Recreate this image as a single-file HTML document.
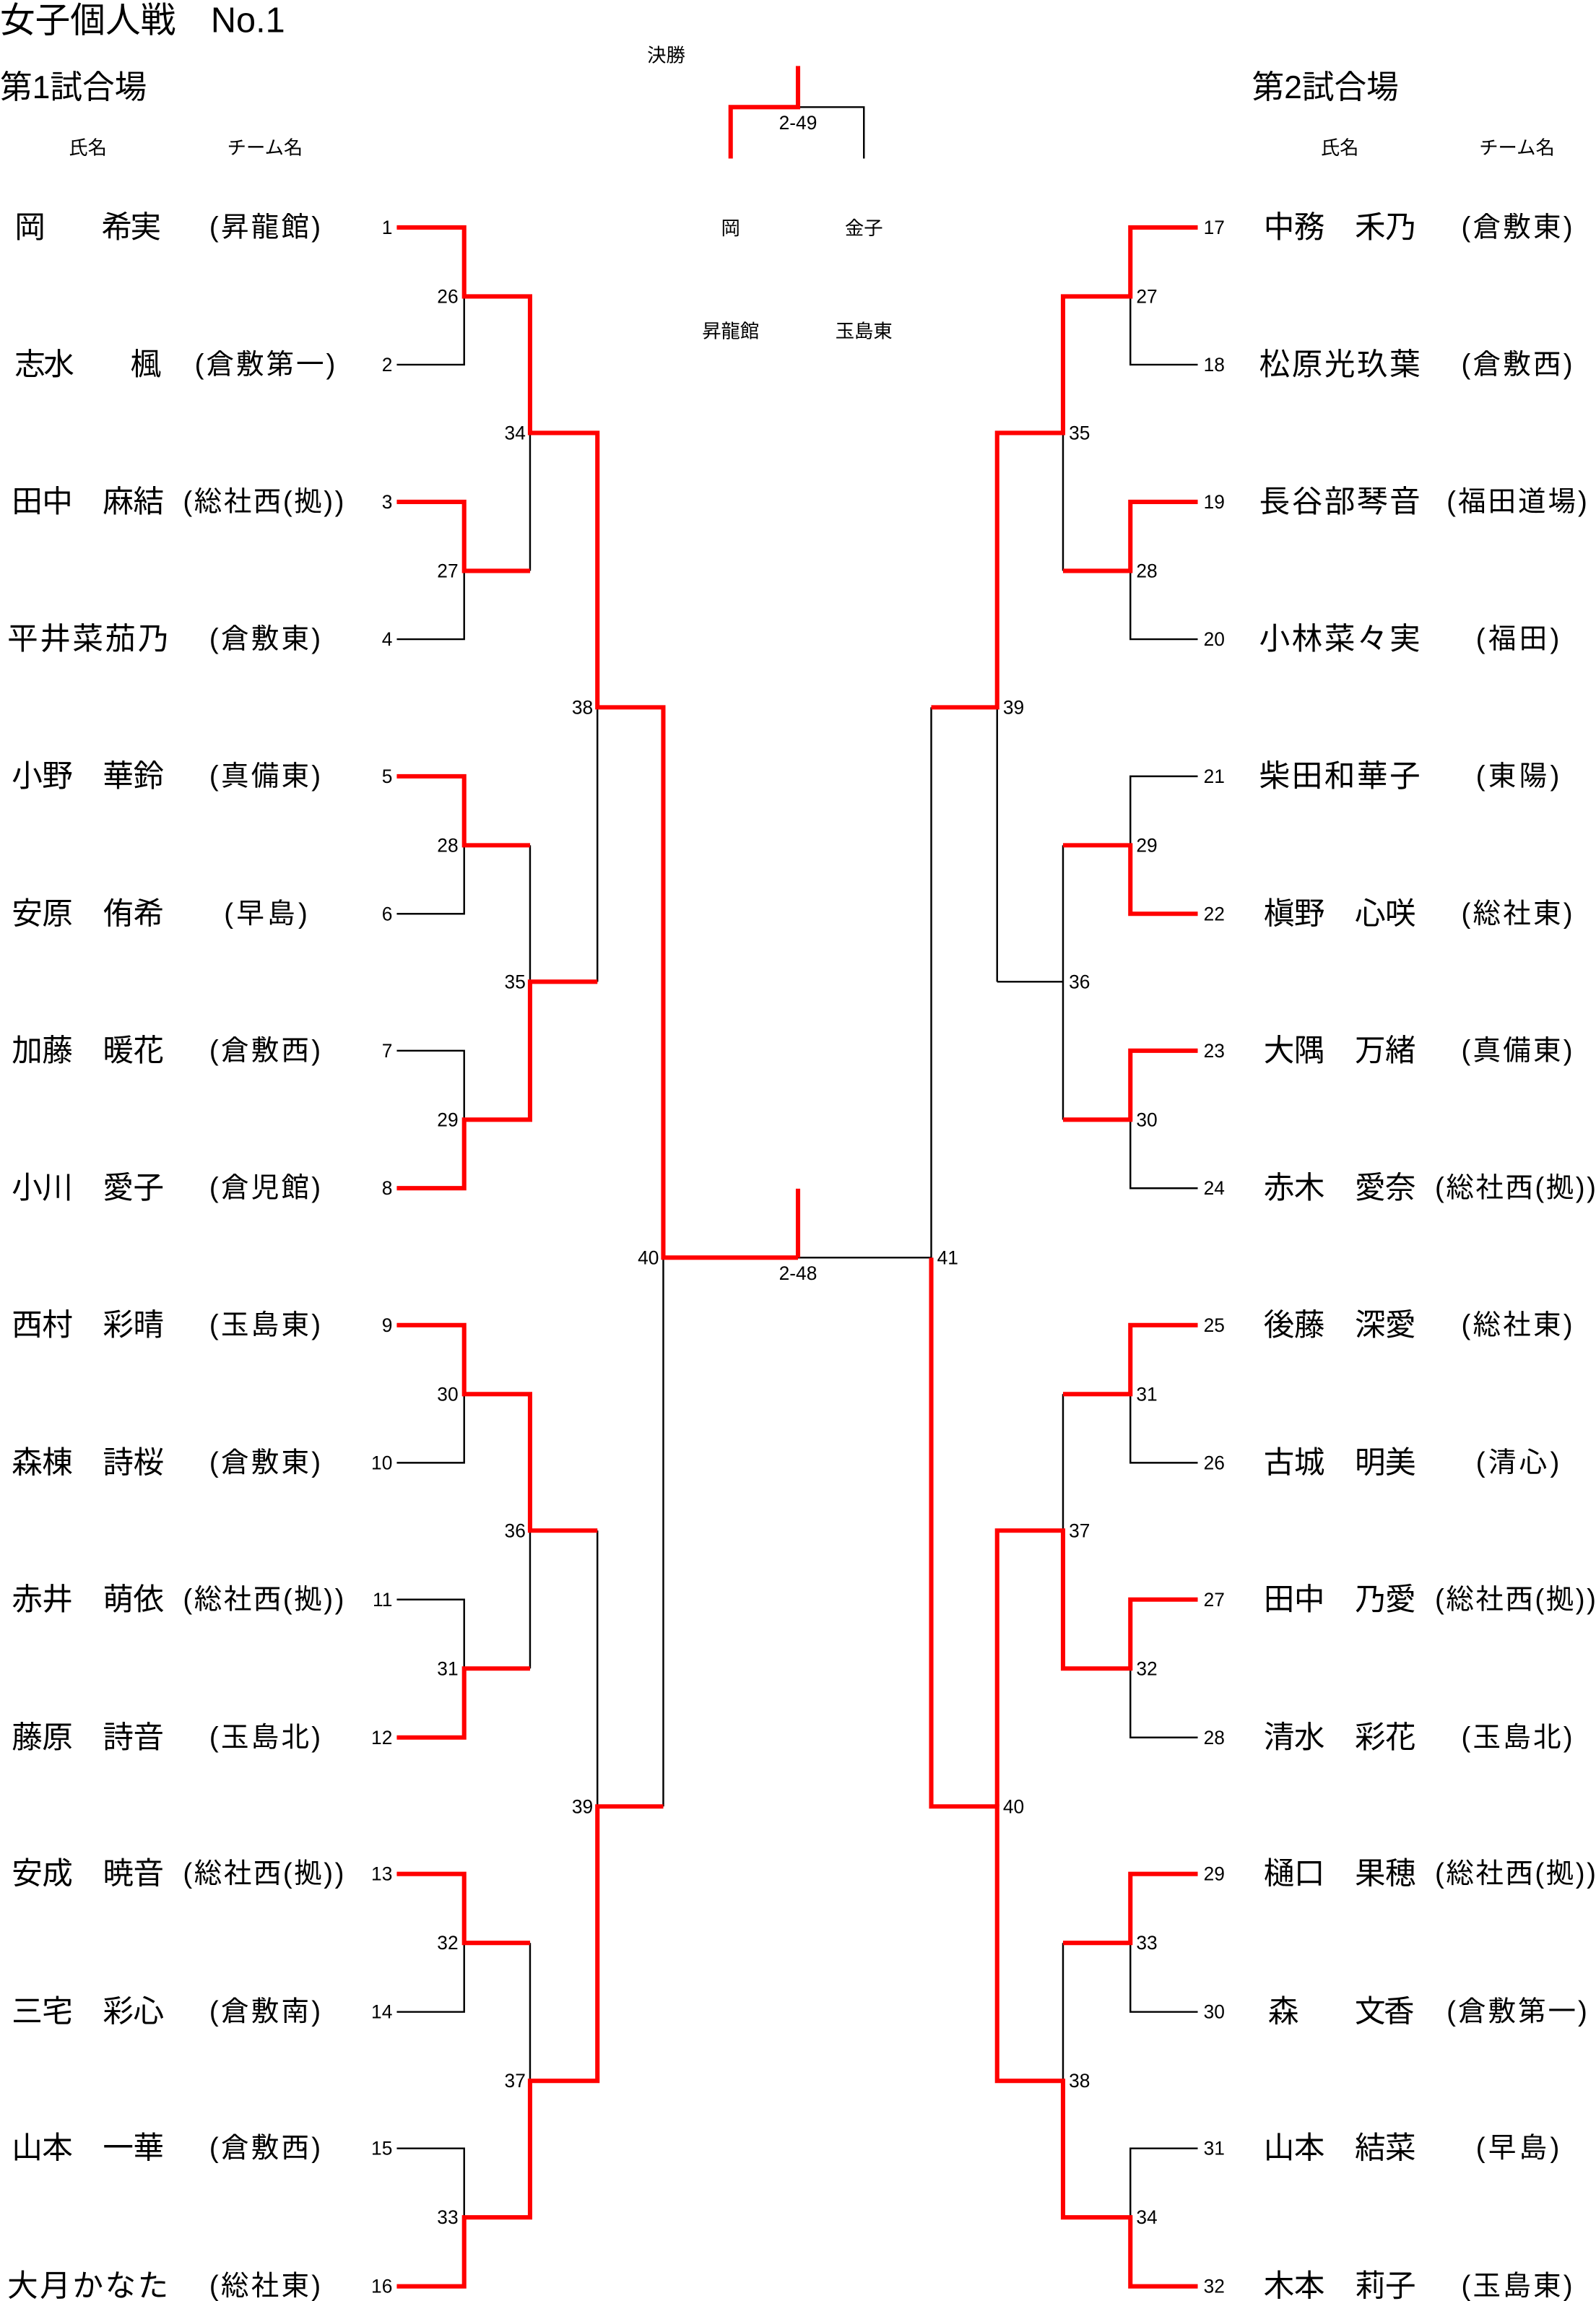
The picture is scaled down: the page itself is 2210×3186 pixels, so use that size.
<!DOCTYPE html>
<html><head><meta charset="utf-8"><style>
html,body{margin:0;padding:0;background:#fff;}
svg{display:block;}
text{font-family:"Liberation Sans","Noto Sans CJK JP",sans-serif;fill:#000;}
</style></head><body>
<svg width="2210" height="3186" viewBox="0 0 1090 1568" preserveAspectRatio="none" xmlns="http://www.w3.org/2000/svg">
<rect width="1090" height="1568" fill="#fff"/>
<text x="0" y="22" font-size="24">女子個人戦　No.1</text>
<text x="0" y="67" font-size="22">第1試合場</text>
<text x="855" y="67" font-size="22">第2試合場</text>
<g font-size="13" text-anchor="middle">
<text x="60" y="105">氏名</text><text x="181" y="105">チーム名</text>
<text x="915" y="105">氏名</text><text x="1036" y="105">チーム名</text>
<text x="455" y="42">決勝</text>
<text x="545" y="88">2-49</text>
<text x="545" y="872">2-48</text>
<text x="499" y="160">岡</text><text x="590" y="160">金子</text>
<text x="499" y="230">昇龍館</text><text x="590" y="230">玉島東</text>
</g>
<g stroke="#000" stroke-width="1.2" fill="none">
<path d="M271 155H317V248.5H271M271 342H317V435.6H271M271 529H317V622.7H271M271 716H317V809.7H271M271 903H317V996.8H271M271 1090H317V1184H271M271 1277H317V1371H271M271 1464H317V1558H271"/>
<path d="M317 202H362M317 389H362M317 576H362M317 763H362M317 950H362M317 1137H362M317 1324H362M317 1511H362"/>
<path d="M362 202V389M362 576V763M362 950V1137M362 1324V1511M362 295H408M362 669H408M362 1043H408M362 1418H408"/>
<path d="M408 295V669M408 1043V1418M408 482H453M408 1231H453M453 482V1231M453 857H636"/>
<path d="M818 155H772V248.5H818M818 342H772V435.6H818M818 529H772V622.7H818M818 716H772V809.7H818M818 903H772V996.8H818M818 1090H772V1184H818M818 1277H772V1371H818M818 1464H772V1558H818"/>
<path d="M772 202H726M772 389H726M772 576H726M772 763H726M772 950H726M772 1137H726M772 1324H726M772 1511H726"/>
<path d="M726 202V389M726 576V763M726 950V1137M726 1324V1511M726 295H681M726 669H681M726 1043H681M726 1418H681"/>
<path d="M681 295V669M681 1043V1418M681 482H636M681 1231H636M636 482V1231"/>
<path d="M545 73H590V108"/>
</g>
<g stroke="#f00" stroke-width="3" fill="none">
<path d="M271 155H317V202H362V295H408V482H453V857H545"/>
<path d="M271 342H317V389H362"/>
<path d="M271 529H317V576H362"/>
<path d="M271 809.7H317V763H362V669H408"/>
<path d="M271 903H317V950H362V1043H408"/>
<path d="M271 1184H317V1137H362"/>
<path d="M271 1277H317V1324H362"/>
<path d="M271 1558H317V1511H362V1418H408V1231H453"/>
<path d="M818 155H772V202H726V295H681V482H636"/>
<path d="M818 342H772V389H726"/>
<path d="M818 622.7H772V576H726"/>
<path d="M818 716H772V763H726"/>
<path d="M818 903H772V950H726"/>
<path d="M818 1090H772V1137H726V1043H681V1231"/>
<path d="M818 1277H772V1324H726"/>
<path d="M818 1558H772V1511H726V1418H681V1231H636V857"/>
<path d="M545 45V73H499V108"/>
<path d="M545 810V857"/>
</g>
<g font-size="13" dominant-baseline="central">
<g text-anchor="end">
<text x="268" y="155">1</text><text x="268" y="248.5">2</text><text x="268" y="342">3</text><text x="268" y="435.6">4</text>
<text x="268" y="529">5</text><text x="268" y="622.7">6</text><text x="268" y="716">7</text><text x="268" y="809.7">8</text>
<text x="268" y="903">9</text><text x="268" y="996.8">10</text><text x="268" y="1090">11</text><text x="268" y="1184">12</text>
<text x="268" y="1277">13</text><text x="268" y="1371">14</text><text x="268" y="1464">15</text><text x="268" y="1558">16</text>
<text x="313" y="202">26</text><text x="313" y="389">27</text><text x="313" y="576">28</text><text x="313" y="763">29</text>
<text x="313" y="950">30</text><text x="313" y="1137">31</text><text x="313" y="1324">32</text><text x="313" y="1511">33</text>
<text x="359" y="295">34</text><text x="359" y="669">35</text><text x="359" y="1043">36</text><text x="359" y="1418">37</text>
<text x="405" y="482">38</text><text x="405" y="1231">39</text><text x="450" y="857">40</text>
</g>
<text x="822" y="155">17</text><text x="822" y="248.5">18</text><text x="822" y="342">19</text><text x="822" y="435.6">20</text>
<text x="822" y="529">21</text><text x="822" y="622.7">22</text><text x="822" y="716">23</text><text x="822" y="809.7">24</text>
<text x="822" y="903">25</text><text x="822" y="996.8">26</text><text x="822" y="1090">27</text><text x="822" y="1184">28</text>
<text x="822" y="1277">29</text><text x="822" y="1371">30</text><text x="822" y="1464">31</text><text x="822" y="1558">32</text>
<text x="776" y="202">27</text><text x="776" y="389">28</text><text x="776" y="576">29</text><text x="776" y="763">30</text>
<text x="776" y="950">31</text><text x="776" y="1137">32</text><text x="776" y="1324">33</text><text x="776" y="1511">34</text>
<text x="730" y="295">35</text><text x="730" y="669">36</text><text x="730" y="1043">37</text><text x="730" y="1418">38</text>
<text x="685" y="482">39</text><text x="685" y="1231">40</text><text x="640" y="857">41</text>
</g>
<g font-size="21" dominant-baseline="central" lengthAdjust="spacing">
<text x="10" y="155" textLength="100">岡　　希実</text>
<text x="10" y="248.5" textLength="100">志水　　楓</text>
<text x="8" y="342" textLength="104">田中　麻結</text>
<text x="5" y="435.6" textLength="110">平井菜茄乃</text>
<text x="8" y="529" textLength="104">小野　華鈴</text>
<text x="8" y="622.7" textLength="104">安原　侑希</text>
<text x="8" y="716" textLength="104">加藤　暖花</text>
<text x="8" y="809.7" textLength="104">小川　愛子</text>
<text x="8" y="903" textLength="104">西村　彩晴</text>
<text x="8" y="996.8" textLength="104">森棟　詩桜</text>
<text x="8" y="1090" textLength="104">赤井　萌依</text>
<text x="8" y="1184" textLength="104">藤原　詩音</text>
<text x="8" y="1277" textLength="104">安成　暁音</text>
<text x="8" y="1371" textLength="104">三宅　彩心</text>
<text x="8" y="1464" textLength="104">山本　一華</text>
<text x="5" y="1558" textLength="110">大月かなた</text>
<text x="863" y="155" textLength="104">中務　禾乃</text>
<text x="860" y="248.5" textLength="110">松原光玖葉</text>
<text x="860" y="342" textLength="110">長谷部琴音</text>
<text x="860" y="435.6" textLength="110">小林菜々実</text>
<text x="860" y="529" textLength="110">柴田和華子</text>
<text x="863" y="622.7" textLength="104">槇野　心咲</text>
<text x="863" y="716" textLength="104">大隅　万緒</text>
<text x="863" y="809.7" textLength="104">赤木　愛奈</text>
<text x="863" y="903" textLength="104">後藤　深愛</text>
<text x="863" y="996.8" textLength="104">古城　明美</text>
<text x="863" y="1090" textLength="104">田中　乃愛</text>
<text x="863" y="1184" textLength="104">清水　彩花</text>
<text x="863" y="1277" textLength="104">樋口　果穂</text>
<text x="866" y="1371" textLength="100">森　　文香</text>
<text x="863" y="1464" textLength="104">山本　結菜</text>
<text x="863" y="1558" textLength="104">木本　莉子</text>
</g>
<g font-size="19" dominant-baseline="central" lengthAdjust="spacing">
<text x="143" y="155" textLength="76">(昇龍館)</text>
<text x="133" y="248.5" textLength="96">(倉敷第一)</text>
<text x="125" y="342" textLength="110">(総社西(拠))</text>
<text x="143" y="435.6" textLength="76">(倉敷東)</text>
<text x="143" y="529" textLength="76">(真備東)</text>
<text x="153" y="622.7" textLength="57">(早島)</text>
<text x="143" y="716" textLength="76">(倉敷西)</text>
<text x="143" y="809.7" textLength="76">(倉児館)</text>
<text x="143" y="903" textLength="76">(玉島東)</text>
<text x="143" y="996.8" textLength="76">(倉敷東)</text>
<text x="125" y="1090" textLength="110">(総社西(拠))</text>
<text x="143" y="1184" textLength="76">(玉島北)</text>
<text x="125" y="1277" textLength="110">(総社西(拠))</text>
<text x="143" y="1371" textLength="76">(倉敷南)</text>
<text x="143" y="1464" textLength="76">(倉敷西)</text>
<text x="143" y="1558" textLength="76">(総社東)</text>
<text x="998" y="155" textLength="76">(倉敷東)</text>
<text x="998" y="248.5" textLength="76">(倉敷西)</text>
<text x="988" y="342" textLength="96">(福田道場)</text>
<text x="1008" y="435.6" textLength="57">(福田)</text>
<text x="1008" y="529" textLength="57">(東陽)</text>
<text x="998" y="622.7" textLength="76">(総社東)</text>
<text x="998" y="716" textLength="76">(真備東)</text>
<text x="980" y="809.7" textLength="110">(総社西(拠))</text>
<text x="998" y="903" textLength="76">(総社東)</text>
<text x="1008" y="996.8" textLength="57">(清心)</text>
<text x="980" y="1090" textLength="110">(総社西(拠))</text>
<text x="998" y="1184" textLength="76">(玉島北)</text>
<text x="980" y="1277" textLength="110">(総社西(拠))</text>
<text x="988" y="1371" textLength="96">(倉敷第一)</text>
<text x="1008" y="1464" textLength="57">(早島)</text>
<text x="998" y="1558" textLength="76">(玉島東)</text>
</g>
</svg>
</body></html>
